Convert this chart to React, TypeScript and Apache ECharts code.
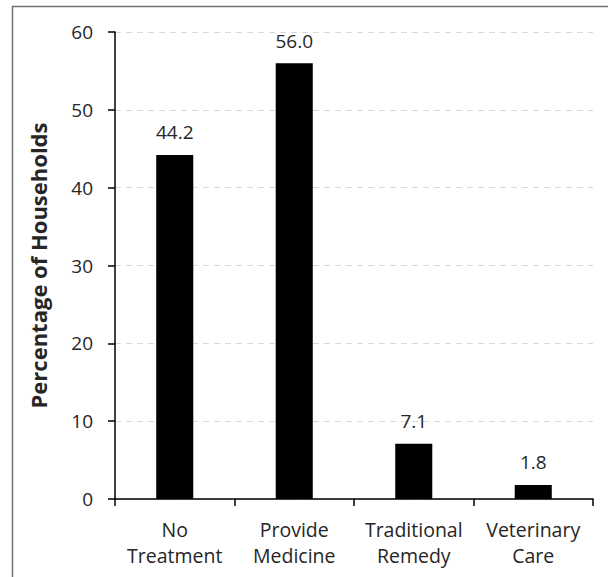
import React, { useEffect, useRef } from "react";
import * as echarts from "echarts";

const categories = ["No\nTreatment", "Provide\nMedicine", "Traditional\nRemedy", "Veterinary\nCare"];
const values = [44.2, 56.0, 7.1, 1.8];
const yTicks = { min: 0, max: 60, interval: 10 };

const FONT = "'Open Sans', 'Noto Sans', sans-serif";

export default function App() {
  const ref = useRef<HTMLDivElement>(null);
  useEffect(() => {
    if (!ref.current) return;
    const chart = echarts.init(ref.current, undefined, { renderer: "svg" });
    chart.setOption({
      animation: false,
      backgroundColor: "#ffffff",
      graphic: [
        {
          type: "rect",
          shape: { x: 12.5, y: 6.5, width: 700, height: 700 },
          style: { fill: "none", stroke: "#737373", lineWidth: 1.5 },
          silent: true,
        },
      ],
      grid: { left: 115, right: 15, top: 32, bottom: 78, containLabel: false },
      xAxis: {
        type: "category",
        data: categories,
        axisLine: { lineStyle: { color: "#000", width: 1.5 } },
        axisTick: { show: true, alignWithLabel: false, length: 7, lineStyle: { color: "#000", width: 1.5 } },
        axisLabel: { color: "#262626", fontSize: 19.5, fontFamily: FONT, lineHeight: 26, margin: 17, interval: 0 },
      },
      yAxis: {
        type: "value",
        min: yTicks.min,
        max: yTicks.max,
        interval: yTicks.interval,
        name: "Percentage of Households",
        nameLocation: "middle",
        nameGap: 66,
        nameTextStyle: { color: "#262626", fontSize: 22, fontWeight: "bold", fontFamily: FONT },
        axisLine: { show: true, lineStyle: { color: "#000", width: 1.5 } },
        axisTick: { show: true, length: 7, lineStyle: { color: "#000", width: 1.5 } },
        axisLabel: { color: "#262626", fontSize: 19, fontFamily: FONT, margin: 22 },
        splitLine: { lineStyle: { color: "#d9d9d9", type: [6, 5], width: 1.2 } },
      },
      series: [
        {
          type: "bar",
          data: values,
          barWidth: "31%",
          itemStyle: { color: "#000" },
          label: {
            show: true,
            position: "top",
            distance: 13,
            color: "#262626",
            fontSize: 19,
            fontFamily: FONT,
            formatter: (p: any) => Number(p.value).toFixed(1),
          },
        },
      ],
    });
    return () => chart.dispose();
  }, []);
  return <div ref={ref} style={{ position: "absolute", left: 0, top: 0, width: 608, height: 577 }} />;
}
